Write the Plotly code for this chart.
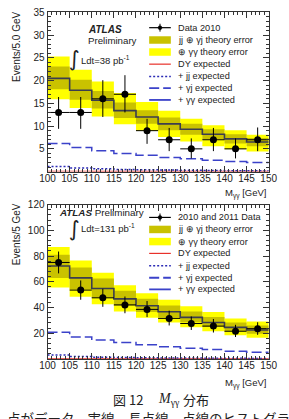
import numpy as np
import plotly.graph_objects as go

W, H = 289, 419

# ---------------- data ----------------
bin_edges = [100, 105, 110, 115, 120, 125, 130, 135, 140, 145, 150]
x_tick_vals = [100, 105, 110, 115, 120, 125, 130, 135, 140, 145, 150]
y1_tick_vals = [5, 10, 15, 20, 25, 30, 35]
y2_tick_vals = [20, 40, 60, 80, 100, 120]

# top panel: Data 2010, 38 pb-1
data_2010 = [13, 13, 16, 17, 9, 7, 5, 7, 5, 7]
data_2010_up = [3.4, 3.4, 4.1, 4.2, 2.6, 2.6, 2.3, 2.6, 2.3, 2.7]
data_2010_dn = [3.6, 3.6, 4.0, 4.0, 2.9, 2.5, 2.1, 2.5, 2.1, 2.5]
exp_2010 = [20.5, 17.9, 15.7, 13.4, 12.0, 10.5, 9.3, 8.2, 7.2, 6.5]
yel_2010_lo = [15.9, 14.0, 12.1, 10.4, 8.9, 7.6, 6.6, 5.6, 4.9, 4.4]
yel_2010_hi = [25.3, 22.4, 19.8, 17.3, 15.3, 13.4, 11.6, 10.2, 9.1, 8.1]
olv_2010_lo = [18.1, 15.8, 13.9, 11.8, 10.5, 9.1, 8.1, 7.1, 6.2, 5.6]
olv_2010_hi = [23.1, 20.2, 17.7, 15.2, 13.5, 11.9, 10.5, 9.3, 8.2, 7.4]
gj_2010 = [6.2, 5.3, 4.6, 4.0, 3.6, 3.1, 2.8, 2.5, 2.2, 2.0]
jj_2010 = [1.1, 0.8, 0.6, 0.45, 0.4, 0.35, 0.3, 0.25, 0.2, 0.2]
dy_2010 = [0.08, 0.08, 0.07, 0.07, 0.06, 0.06, 0.05, 0.05, 0.05, 0.05]

# bottom panel: 2010 and 2011 Data, 131 pb-1
data_2011 = [75, 53.5, 47.5, 42, 38.5, 31.5, 27.5, 25.5, 21.5, 23.5]
data_2011_up = [8.5, 7.5, 7.0, 6.5, 6.5, 6.0, 5.5, 5.5, 5.0, 5.0]
data_2011_dn = [8.5, 7.5, 7.0, 6.5, 6.0, 5.5, 5.0, 5.0, 4.5, 4.8]
exp_2011 = [72.3, 63.0, 54.7, 46.7, 41.3, 36.7, 32.3, 28.3, 24.5, 22.5]
yel_2011_lo = [55.5, 48.3, 42.4, 36.9, 31.9, 28.2, 24.6, 21.5, 18.3, 16.5]
yel_2011_hi = [87.0, 76.5, 67.0, 57.3, 51.0, 46.0, 41.0, 36.5, 31.5, 29.0]
olv_2011_lo = [63.0, 54.0, 47.5, 41.3, 36.5, 32.2, 28.5, 25.0, 21.5, 19.6]
olv_2011_hi = [81.0, 71.0, 62.5, 52.9, 46.8, 41.5, 36.8, 32.5, 28.2, 26.0]
gj_2011 = [20.7, 17.0, 14.6, 12.7, 11.0, 9.4, 8.2, 7.2, 6.0, 5.2]
jj_2011 = [3.1, 1.8, 1.3, 1.0, 0.8, 0.7, 0.6, 0.5, 0.4, 0.35]
dy_2011 = [0.25, 0.22, 0.2, 0.18, 0.16, 0.15, 0.14, 0.13, 0.12, 0.12]

legend_labels_top = ["Data 2010", "jj ⊕ γj theory error", "⊕ γγ theory error",
                     "DY expected", "+ jj expected", "+ γj expected", "+ γγ expected"]
legend_labels_bot = ["2010 and 2011 Data", "jj ⊕ γj theory error", "⊕ γγ theory error",
                     "DY expected", "+ jj expected", "+ γj expected", "+ γγ expected"]

# ---------------- style ----------------
YELLOW = '#ffff00'
OLIVE = '#c9c200'
STEP = '#3b3d4f'
BLUE = '#3b42c9'
DBLUE = '#2a2ab5'
RED = '#e8312a'
TXT = '#222222'
SANS = 'Liberation Sans, Arial, sans-serif'


def px(x):
    return x / W


def py(y):
    return 1 - y / H


edges = np.array(bin_edges, dtype=float)
centers = (edges[:-1] + edges[1:]) / 2
widths = np.diff(edges)

fig = go.Figure()


def add_panel(xa, ya, data, up, dn, exp, yl, yh, ol, oh, dy, jj, gj):
    yl, yh, ol, oh = map(np.array, (yl, yh, ol, oh))
    fig.add_trace(go.Bar(x=centers, y=yh - yl, base=yl, width=widths,
                         marker=dict(color=YELLOW, line_width=0),
                         xaxis=xa, yaxis=ya, showlegend=False, hoverinfo='skip'))
    fig.add_trace(go.Bar(x=centers, y=oh - ol, base=ol, width=widths,
                         marker=dict(color=OLIVE, line_width=0),
                         xaxis=xa, yaxis=ya, showlegend=False, hoverinfo='skip'))

    def step(vals, color, width, dash):
        fig.add_trace(go.Scatter(x=edges, y=list(vals) + [vals[-1]], mode='lines',
                                 line=dict(shape='hv', color=color, width=width, dash=dash),
                                 xaxis=xa, yaxis=ya, showlegend=False, hoverinfo='skip'))

    step(dy, RED, 1.2, 'solid')
    step(jj, DBLUE, 1.5, '2px,2px')
    step(gj, BLUE, 1.5, '10px,4px')
    step(exp, STEP, 1.6, 'solid')
    fig.add_trace(go.Scatter(x=centers, y=data, mode='markers',
                             marker=dict(color='black', size=7),
                             error_y=dict(type='data', array=up, arrayminus=dn,
                                          color='black', thickness=1, width=0),
                             error_x=dict(type='data', array=widths / 2,
                                          color='black', thickness=1, width=0),
                             xaxis=xa, yaxis=ya, showlegend=False))


add_panel('x', 'y', data_2010, data_2010_up, data_2010_dn, exp_2010,
          yel_2010_lo, yel_2010_hi, olv_2010_lo, olv_2010_hi, dy_2010, jj_2010, gj_2010)
add_panel('x2', 'y2', data_2011, data_2011_up, data_2011_dn, exp_2011,
          yel_2011_lo, yel_2011_hi, olv_2011_lo, olv_2011_hi, dy_2011, jj_2011, gj_2011)

X0, X1 = 42, 277
TOP1, BOT1 = 6.5, 168
TOP2, BOT2 = 201.5, 358

tickfont = dict(family=SANS, size=10, color=TXT)


def xcfg(top, bot, anchor):
    return dict(domain=[px(X0), px(X1)], anchor=anchor, range=[100, 150],
                tickvals=x_tick_vals, ticks='inside', ticklen=6, tickwidth=1,
                tickcolor='#333', mirror='allticks', showline=True, linecolor='#333',
                linewidth=1, showgrid=False, zeroline=False, tickfont=tickfont,
                ticklabelstandoff=-3,
                minor=dict(ticks='inside', ticklen=3, tick0=100, dtick=1,
                           tickcolor='#333', showgrid=False))


def ycfg(top, bot, anchor, rng, tv, mdt):
    return dict(domain=[py(bot), py(top)], anchor=anchor, range=rng,
                tickvals=tv, ticks='inside', ticklen=6, tickwidth=1,
                tickcolor='#333', mirror='allticks', showline=True, linecolor='#333',
                linewidth=1, showgrid=False, zeroline=False, tickfont=tickfont,
                minor=dict(ticks='inside', ticklen=3, tick0=0, dtick=mdt,
                           tickcolor='#333', showgrid=False))


shapes = []
annotations = []


def ann(x, y, text, size=9.5, xanchor='left', family=SANS, angle=0, yanchor='middle', color=TXT):
    annotations.append(dict(x=px(x), y=py(y), xref='paper', yref='paper', text=text,
                            showarrow=False, xanchor=xanchor, yanchor=yanchor,
                            textangle=angle, font=dict(family=family, size=size, color=color)))


def legend(ys, labels):
    lx0, lx1, tx = 150, 173, 179
    for y, lab in zip(ys, labels):
        ann(tx, y, lab, size=9.2)
    # data entry
    shapes.append(dict(type='line', xref='paper', yref='paper', x0=px(lx0), x1=px(lx1),
                       y0=py(ys[0]), y1=py(ys[0]), line=dict(color='black', width=1.2)))
    shapes.append(dict(type='line', xref='paper', yref='paper', x0=px(161.5), x1=px(161.5),
                       y0=py(ys[0] - 4), y1=py(ys[0] + 4), line=dict(color='black', width=1)))
    shapes.append(dict(type='circle', xref='paper', yref='paper', x0=px(159.5), x1=px(163.5),
                       y0=py(ys[0] + 2), y1=py(ys[0] - 2), fillcolor='black',
                       line=dict(color='black', width=0.5)))
    for y, col in ((ys[1], OLIVE), (ys[2], YELLOW)):
        shapes.append(dict(type='rect', xref='paper', yref='paper', x0=px(lx0), x1=px(lx1),
                           y0=py(y + 3.8), y1=py(y - 3.8), fillcolor=col, line=dict(width=0)))
    styles = [(RED, 1.2, 'solid'), (DBLUE, 1.5, '2px,2px'), (BLUE, 1.8, '10px,4px'),
              (BLUE, 1.8, 'solid')]
    for y, (c, w, d) in zip(ys[3:], styles):
        shapes.append(dict(type='line', xref='paper', yref='paper', x0=px(lx0), x1=px(lx1),
                           y0=py(y), y1=py(y), line=dict(color=c, width=w, dash=d)))


legend([22, 34.5, 46.7, 59, 71.5, 83.3, 95.3], legend_labels_top)
legend([214.5, 226.7, 239, 251, 263.5, 275.7, 287.5], legend_labels_bot)

# top panel texts
ann(83, 24, '<b><i>ATLAS</i></b>', size=10)
ann(83, 35, 'Preliminary', size=9.7)
ann(70.5, 53.5, '∫', size=21, xanchor='center', family='DejaVu Sans')
ann(75, 55, 'Ldt=38 pb<sup>-1</sup>', size=9.5)
ann(277, 190, 'M<sub>γγ</sub> [GeV]', size=9.5, xanchor='right')
ann(9, 41, 'Events/5.0 GeV', size=10, xanchor='center', angle=-90)

# bottom panel texts
ann(52, 210, '<b><i>ATLAS</i></b> Preliminary', size=9.8)
ann(70.5, 226.5, '∫', size=21, xanchor='center', family='DejaVu Sans')
ann(75, 225, 'Ldt=131 pb<sup>-1</sup>', size=9.5)
ann(277, 382.5, 'M<sub>γγ</sub> [GeV]', size=9.5, xanchor='right')
ann(9, 231, 'Events/5 GeV', size=10, xanchor='center', angle=-90)

# caption
CJK = 'Noto Sans CJK JP'
ann(127, 399.5, '図 12', size=13, xanchor='center', family=CJK)
ann(157, 399.5, '<i>M</i><sub>γγ</sub>', size=14, xanchor='left', family='Liberation Serif')
ann(200, 399.5, '分布', size=13, xanchor='center', family=CJK)
ann(-3.5, 418, '点がデータ、実線、長点線、点線のヒストグラムは、それぞれ', size=13.5, family=CJK)

fig.update_layout(
    width=W, height=H, margin=dict(l=0, r=0, t=0, b=0),
    paper_bgcolor='white', plot_bgcolor='white', barmode='overlay',
    showlegend=False,
    xaxis=xcfg(TOP1, BOT1, 'y'),
    yaxis=ycfg(TOP1, BOT1, 'x', [0, 35], y1_tick_vals, 1),
    xaxis2=xcfg(TOP2, BOT2, 'y2'),
    yaxis2=ycfg(TOP2, BOT2, 'x2', [0, 120], y2_tick_vals, 4),
    shapes=shapes, annotations=annotations,
)

fig.write_html("out.html")
